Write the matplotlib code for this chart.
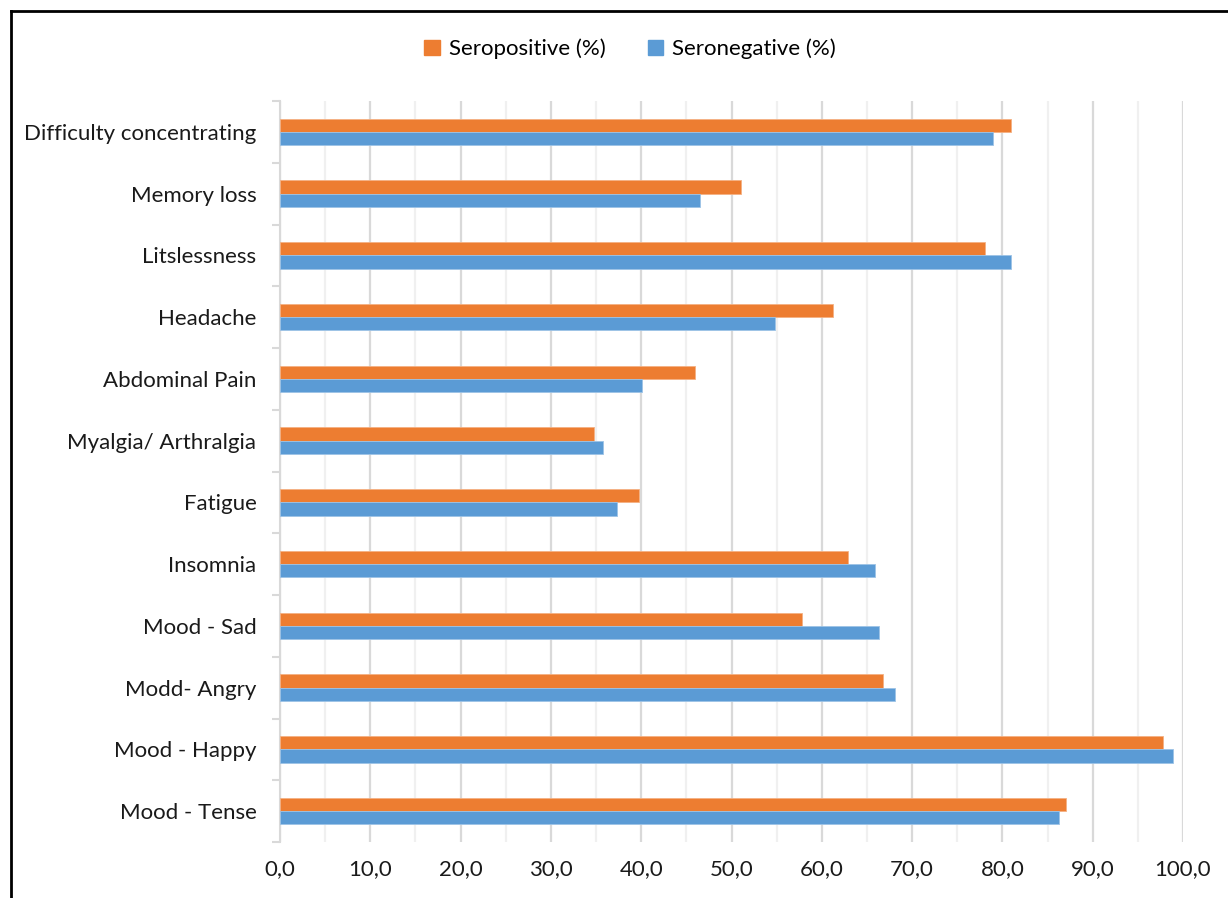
import matplotlib
matplotlib.use("Agg")
import matplotlib.pyplot as plt
import numpy as np
from matplotlib.lines import Line2D
from matplotlib.patches import Patch

categories = ["Difficulty concentrating", "Memory loss", "Litslessness", "Headache",
              "Abdominal Pain", "Myalgia/ Arthralgia", "Fatigue", "Insomnia",
              "Mood - Sad", "Modd- Angry", "Mood - Happy", "Mood - Tense"]
seropositive = [80.9, 51.1, 78.1, 61.2, 46.0, 34.8, 39.8, 62.9, 57.8, 66.8, 97.8, 87.0]
seronegative = [79.0, 46.5, 81.0, 54.8, 40.1, 35.8, 37.3, 65.9, 66.3, 68.1, 98.9, 86.3]
xticks = [0, 10, 20, 30, 40, 50, 60, 70, 80, 90, 100]
xticklabels = ["0,0", "10,0", "20,0", "30,0", "40,0", "50,0", "60,0", "70,0", "80,0", "90,0", "100,0"]

plt.rcParams['font.family'] = ['Lato', 'DejaVu Sans']

ORANGE = "#ED7D31"
BLUE = "#5B9BD5"
FS = 16

fig = plt.figure(figsize=(12.28, 8.98), dpi=100)
ax = fig.add_axes([280/1228, 1-842/898, (1183-280)/1228, (842-101)/898])

y = np.arange(len(categories))
h = 0.216
ax.barh(y - h/2, seropositive, height=h, color=ORANGE, edgecolor="#f4b183", linewidth=0.6, zorder=3)
ax.barh(y + h/2, seronegative, height=h, color=BLUE, edgecolor="#9dc3e6", linewidth=0.6, zorder=3)

ax.set_xlim(0, 100)
ax.set_ylim(len(categories) - 0.5, -0.5)

ax.set_xticks(xticks)
ax.set_xticklabels(xticklabels, fontsize=FS, color="#1a1a1a")
ax.set_xticks(np.arange(5, 100, 10), minor=True)
ax.grid(which="major", axis="x", color="#d9d9d9", linewidth=1.6, zorder=0)
ax.grid(which="minor", axis="x", color="#f0f0f0", linewidth=1.6, zorder=0)
ax.tick_params(axis="x", which="both", length=0, pad=12)

ax.set_yticks(y)
ax.set_yticklabels(categories, fontsize=FS, color="#1a1a1a")
ax.set_yticks(np.arange(-0.5, len(categories), 1.0), minor=True)
ax.tick_params(axis="y", which="major", length=0, pad=17)
ax.tick_params(axis="y", which="minor", length=6, width=1.5, color="#d9d9d9")

for s in ["top", "right", "bottom"]:
    ax.spines[s].set_visible(False)
ax.spines["left"].set_color("#d9d9d9")
ax.spines["left"].set_linewidth(1.5)

handles = [Patch(facecolor=ORANGE, edgecolor=ORANGE), Patch(facecolor=BLUE, edgecolor=BLUE)]
fig.legend(handles, ["Seropositive (%)", "Seronegative (%)"], loc="center",
           bbox_to_anchor=(630/1228, 1-49/898), ncol=2, frameon=False,
           fontsize=FS, handlelength=0.7, handleheight=0.7, handletextpad=0.4,
           columnspacing=1.9)

# outer frame (left and top edges visible)
fig.add_artist(Line2D([11/1228, 11/1228], [0, 1-11/898], color="black", linewidth=2, transform=fig.transFigure))
fig.add_artist(Line2D([11/1228, 1], [1-11/898, 1-11/898], color="black", linewidth=2, transform=fig.transFigure))

fig.savefig("out.png", dpi=100, facecolor="white")
